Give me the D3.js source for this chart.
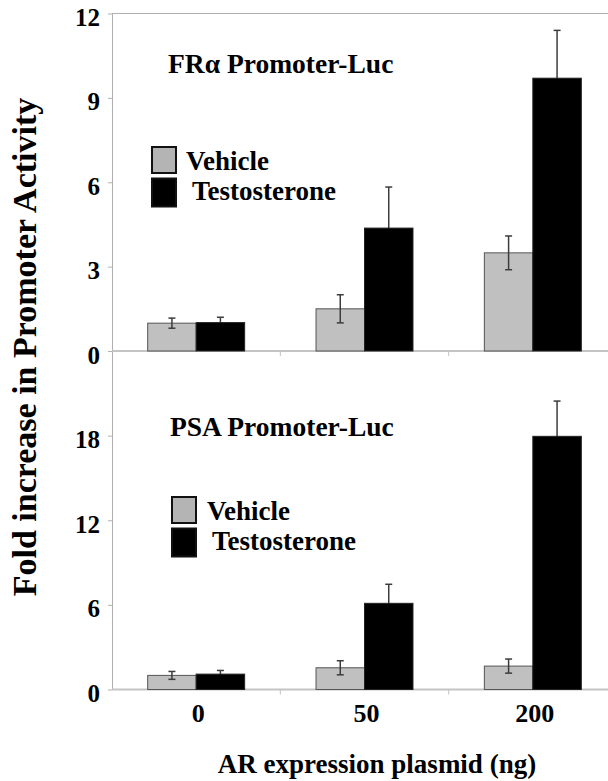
<!DOCTYPE html>
<html>
<head>
<meta charset="utf-8">
<script src="https://cdn.jsdelivr.net/npm/d3@7"></script>
<style>
  body { margin: 0; background: #fff; }
  svg { display: block; }
  text { font-family: "Liberation Serif", "Times New Roman", serif; font-weight: bold; }
</style>
</head>
<body>
<svg id="chart" width="608" height="781" font-family="Liberation Serif, serif"></svg>
<script>
// AR expression plasmid doses and the two treatments
const doses = ['0', '50', '200']
const series = ['Vehicle', 'Testosterone']

// FRα promoter, fold increase (mean, error)
const fraVehicle = [0.99, 1.5, 3.49]
const fraVehicleErr = [0.18, 0.5, 0.6]
const fraTesto = [1.01, 4.37, 9.7]
const fraTestoErr = [0.19, 1.46, 1.7]
const fraTicks = [0, 3, 6, 9, 12]

// PSA promoter, fold increase (mean, error)
const psaVehicle = [1.0, 1.54, 1.66]
const psaVehicleErr = [0.28, 0.5, 0.5]
const psaTesto = [1.09, 6.11, 17.95]
const psaTestoErr = [0.26, 1.35, 2.5]
const psaTicks = [0, 6, 12, 18]

const svg = d3.select('#chart')
const left = 112, right = 608
const axisColor = '#b0b0b0'
const fills = { Vehicle: '#c0c0c0', Testosterone: '#000' }

// x: one band per dose, two bars inside each band
const x = d3.scaleBand()
    .domain(doses)
    .range([left, 617])
    .paddingInner(0.424)
    .paddingOuter(0.212)

const xSub = d3.scaleBand()
    .domain(series)
    .range([0, x.bandwidth()])

const panels = [
  {
    title: 'FRα Promoter-Luc', titleX: 168, titleY: 73,
    y: d3.scaleLinear().domain([0, 12]).range([351, 13.5]),
    ticks: fraTicks,
    values: { Vehicle: fraVehicle, Testosterone: fraTesto },
    errs: { Vehicle: fraVehicleErr, Testosterone: fraTestoErr },
    legendX: 151, legendY: 146, legendText: [186, 192]
  },
  {
    title: 'PSA Promoter-Luc', titleX: 170, titleY: 436,
    y: d3.scaleLinear().domain([0, 24]).range([689.5, 351]),
    ticks: psaTicks,
    values: { Vehicle: psaVehicle, Testosterone: psaTesto },
    errs: { Vehicle: psaVehicleErr, Testosterone: psaTestoErr },
    legendX: 171, legendY: 496, legendText: [207, 212]
  }
]

panels.forEach((p, pi) => {
  const y = p.y
  const g = svg.append('g')

  // top border only on the upper panel
  if (pi === 0) {
    g.append('line')
        .attr('x1', left).attr('x2', right)
        .attr('y1', y(12)).attr('y2', y(12))
        .attr('stroke', axisColor)
  }

  // y axis
  const ax = g.append('g')
      .attr('transform', `translate(${left},0)`)
      .call(d3.axisLeft(y).tickValues(p.ticks).tickSize(4).tickSizeOuter(0).tickPadding(8))
  ax.attr('font-family', null)
  ax.select('.domain').attr('stroke', axisColor)
  ax.selectAll('.tick line').attr('stroke', axisColor)
  ax.selectAll('.tick text')
      .attr('font-size', 25)
      .attr('fill', '#000')
      .attr('dy', '0.48em')

  // zero baseline and dose separators
  g.append('line')
      .attr('x1', left).attr('x2', right)
      .attr('y1', y(0)).attr('y2', y(0))
      .attr('stroke', '#c4c4c4')
      .attr('stroke-width', 2)

  g.selectAll('.sep')
      .data(doses.slice(1))
      .join('line')
      .attr('x1', d => x(d) - x.step() * x.paddingInner() / 2)
      .attr('x2', d => x(d) - x.step() * x.paddingInner() / 2)
      .attr('y1', y(0)).attr('y2', y(0) + 5)
      .attr('stroke', '#c4c4c4')

  const rows = s => doses.map((d, i) => ({ dose: d, s, v: p.values[s][i], e: p.errs[s][i] }))

  const drawBars = s => g.selectAll(null)
      .data(rows(s))
      .join('rect')
      .attr('x', d => x(d.dose) + xSub(s))
      .attr('y', d => y(d.v))
      .attr('width', xSub.bandwidth())
      .attr('height', d => y(0) - y(d.v))
      .attr('fill', fills[s])
      .attr('stroke', s === 'Vehicle' ? '#555' : '#222')
      .attr('stroke-width', 1)

  // vehicle bars, then all error bars, then testosterone bars on top
  drawBars('Vehicle')

  const errs = series.flatMap(rows)
  const cx = d => x(d.dose) + xSub(d.s) + xSub.bandwidth() / 2
  const eg = g.append('g').attr('stroke', '#3c3c3c').attr('stroke-width', 1.5)
  eg.selectAll('.ev').data(errs).join('line')
      .attr('x1', cx).attr('x2', cx)
      .attr('y1', d => y(d.v - d.e)).attr('y2', d => y(d.v + d.e))
  eg.selectAll('.et').data(errs).join('line')
      .attr('x1', d => cx(d) - 3.5).attr('x2', d => cx(d) + 3.5)
      .attr('y1', d => y(d.v + d.e)).attr('y2', d => y(d.v + d.e))
  eg.selectAll('.eb').data(errs.filter(d => d.s === 'Vehicle')).join('line')
      .attr('x1', d => cx(d) - 3.5).attr('x2', d => cx(d) + 3.5)
      .attr('y1', d => y(d.v - d.e)).attr('y2', d => y(d.v - d.e))

  drawBars('Testosterone')

  // panel title
  g.append('text')
      .attr('x', p.titleX)
      .attr('y', p.titleY)
      .attr('font-size', 27.5)
      .text(p.title)

  // legend
  const lg = g.selectAll('.lg')
      .data(series)
      .join('g')
  lg.append('rect')
      .attr('x', p.legendX + 1)
      .attr('y', (d, i) => p.legendY + 1 + i * 31.5)
      .attr('width', 24)
      .attr('height', (d, i) => i === 0 ? 26 : 28)
      .attr('fill', d => d === 'Vehicle' ? '#b4b4b4' : '#000')
      .attr('stroke', '#111')
      .attr('stroke-width', 2)
  lg.append('text')
      .attr('x', (d, i) => p.legendText[i])
      .attr('y', (d, i) => p.legendY + 24 + i * 30)
      .attr('font-size', 27)
      .text(d => d)
})

// x tick labels under the lower panel
svg.selectAll('.xl')
    .data(doses)
    .join('text')
    .attr('x', d => x(d) + x.bandwidth() / 2 + 2)
    .attr('y', 722)
    .attr('text-anchor', 'middle')
    .attr('font-size', 26)
    .text(d => d)

// axis titles
svg.append('text')
    .attr('x', 377)
    .attr('y', 773)
    .attr('text-anchor', 'middle')
    .attr('font-size', 27)
    .text('AR expression plasmid (ng)')

svg.append('text')
    .attr('transform', 'translate(36,347) rotate(-90)')
    .attr('text-anchor', 'middle')
    .attr('font-size', 34)
    .text('Fold increase in Promoter Activity')
</script>
</body>
</html>
